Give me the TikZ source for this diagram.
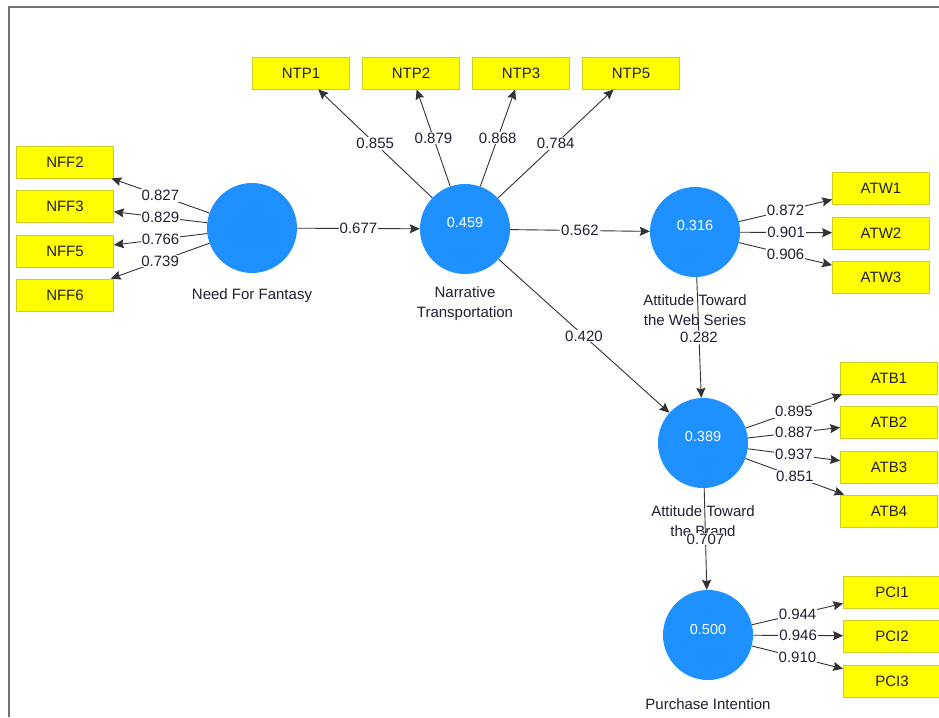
\documentclass[tikz,border=0pt]{standalone}
\usepackage{fontspec}
\setmainfont{Liberation Sans}
\usetikzlibrary{arrows.meta}

\definecolor{lvblue}{RGB}{30,144,255}
\definecolor{indyellow}{RGB}{255,255,0}
\definecolor{indedge}{RGB}{205,205,40}
\definecolor{txtdark}{RGB}{35,30,50}
\definecolor{framegray}{RGB}{115,115,115}

\tikzset{
  lv/.style={circle, fill=lvblue, minimum size=90pt, inner sep=0pt,
    text=white, font=\fontsize{14.5}{16}\selectfont},
  ind/.style={rectangle, fill=indyellow, draw=indedge, line width=0.8pt,
    minimum width=97pt, minimum height=32pt, inner sep=0pt,
    text=txtdark, font=\fontsize{15}{17}\selectfont},
  lvname/.style={text=txtdark, align=center,
    font=\fontsize{15}{20}\selectfont},
  pth/.style={-{Stealth[length=10pt,width=9pt,inset=1.5pt]},
    line width=0.9pt, draw=black!80},
  load/.style={midway, fill=white, inner sep=1pt, text=txtdark,
    font=\fontsize{15}{17}\selectfont},
}

\begin{document}
\begin{tikzpicture}[x=1pt, y=-1pt]
    \useasboundingbox (0,0) rectangle (939,717);
    \fill[white] (0,0) rectangle (939,717);
    \draw[framegray, line width=1.8pt] (9,717) -- (9,7) -- (939,7);

    % latent variables
    \node[lv] (nff) at (252,228) {};
    \node[lv] (ntp) at (465,229) {};
    \node[lv] (atw) at (695,232) {};
    \node[lv] (atb) at (703,443) {};
    \node[lv] (pci) at (708,635) {};

    \node at (465,223) [text=white, font=\fontsize{14.5}{16}\selectfont] (ntpr) {0.459};
    \node at (695,226) [text=white, font=\fontsize{14.5}{16}\selectfont] (atwr) {0.316};
    \node at (703,437) [text=white, font=\fontsize{14.5}{16}\selectfont] (atbr) {0.389};
    \node at (708,630) [text=white, font=\fontsize{14.5}{16}\selectfont] (pcir) {0.500};

    \node[lvname] (nffname) at (252,296) {Need For Fantasy};
    \node[lvname] (ntpname) at (465,304) {Narrative\\Transportation};
    \node[lvname] (atwname) at (695,310) {Attitude Toward\\the Web Series};
    \node[lvname] (atbname) at (703,521) {Attitude Toward\\the Brand};
    \node[lvname] (pciname) at (708,704) {Purchase Intention};

    % indicators
    \foreach \b/\y in {NFF2/162, NFF3/206, NFF5/251, NFF6/295}
        \node[ind] (\b) at (65,\y) {\b};
    \foreach \b/\x in {NTP1/301, NTP2/411, NTP3/521, NTP5/631}
        \node[ind] (\b) at (\x,73) {\b};
    \foreach \b/\y in {ATW1/188, ATW2/233, ATW3/277}
        \node[ind] (\b) at (881,\y) {\b};
    \foreach \b/\y in {ATB1/378, ATB2/422, ATB3/467, ATB4/511}
        \node[ind] (\b) at (889,\y) {\b};
    \foreach \b/\y in {PCI1/592, PCI2/636, PCI3/681}
        \node[ind] (\b) at (892,\y) {\b};

    % outer loadings
    \foreach \b/\v in {NFF2/0.827, NFF3/0.829, NFF5/0.766, NFF6/0.739}
        \draw[pth] (nff) -- node[load] {\v} (\b);
    \foreach \b/\v in {NTP1/0.855, NTP2/0.879, NTP3/0.868, NTP5/0.784}
        \draw[pth] (ntp) -- node[load] {\v} (\b);
    \foreach \b/\v in {ATW1/0.872, ATW2/0.901, ATW3/0.906}
        \draw[pth] (atw) -- node[load] {\v} (\b);
    \foreach \b/\v in {ATB1/0.895, ATB2/0.887, ATB3/0.937, ATB4/0.851}
        \draw[pth] (atb) -- node[load] {\v} (\b);
    \foreach \b/\v in {PCI1/0.944, PCI2/0.946, PCI3/0.910}
        \draw[pth] (pci) -- node[load] {\v} (\b);

    % path coefficients
    \draw[pth] (nff) -- node[load] {0.677} (ntp);
    \draw[pth] (ntp) -- node[load] {0.562} (atw);
    \draw[pth] (ntp) -- node[load] {0.420} (atb);
    \draw[pth] (atw) -- node[load] {0.282} (atb);
    \draw[pth] (atb) -- node[load] {0.707} (pci);
\end{tikzpicture}
\end{document}
